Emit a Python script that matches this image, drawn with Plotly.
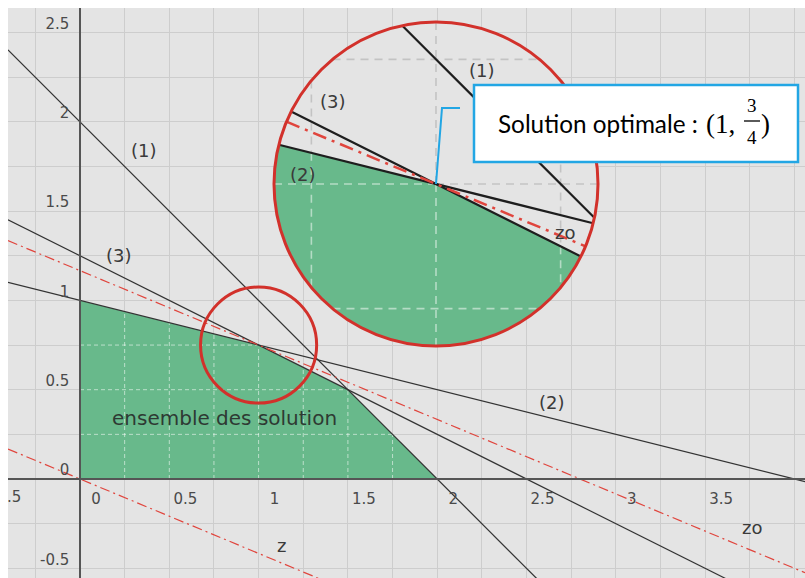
import numpy as np
import plotly.graph_objects as go

# ---- Linear programme: a*x + b*y <= c for each constraint, x >= 0, y >= 0 ----
constraint_names = ["(1)", "(2)", "(3)"]
coef_x = [1, 1, 2]
coef_y = [1, 4, 4]
rhs = [2, 4, 5]

# Objective z = 5x + 12y and the optimal vertex
objective = [5, 12]
optimum = [1.0, 0.75]

# Axis ticks
x_tick_vals = [-0.5, 0, 0.5, 1, 1.5, 2, 2.5, 3, 3.5]
x_tick_text = ["-0.5", "0", "0.5", "1", "1.5", "2", "2.5", "3", "3.5"]
y_tick_vals = [-0.5, 0, 0.5, 1, 1.5, 2, 2.5]
y_tick_text = ["-0.5", "0", "0.5", "1", "1.5", "2", "2.5"]
grid_step = 0.25

# ---- Page geometry ----
W, H = 805, 578
ML, MT = 8, 8
PW, PH = W - ML, H - MT
PX = 178.6                      # pixels per unit on the main view
ORIGIN_PX = (80, 479)
x_range = [(ML - ORIGIN_PX[0]) / PX, (W - ORIGIN_PX[0]) / PX]
y_range = [(ORIGIN_PX[1] - H) / PX, (ORIGIN_PX[1] - MT) / PX]

LENS_R = 0.325                  # radius of the magnified zone (data units)
LENS_CENTER_PX = (436, 184)
LENS_RADIUS_PX = 162
LENS_PAD_PX = 6                 # room so the outline is not clipped by the subplot

BG = "#e4e4e4"
GRID = "#cdcdcd"
GREEN = "#68b98b"
LINE = "#333333"
RED = "#e0453d"
CIRCLE_RED = "#d2312b"
BLUE = "#22a6e4"
TXT = "#3a3a3a"


def paper_x(px):
    return (px - ML) / PW


def paper_y(py):
    return (H - py) / PH


def clip_poly(poly, a, b, c):
    """Keep the part of a polygon where a*x + b*y <= c."""
    out = []
    n = len(poly)
    for i in range(n):
        p, q = poly[i], poly[(i + 1) % n]
        fp = a * p[0] + b * p[1] - c
        fq = a * q[0] + b * q[1] - c
        if fp <= 0:
            out.append(p)
        if fp * fq < 0:
            t = fp / (fp - fq)
            out.append((p[0] + t * (q[0] - p[0]), p[1] + t * (q[1] - p[1])))
    return out


def seg_interval(p, q, planes):
    """Parameter interval [t0, t1] of segment p->q lying inside all half-planes."""
    t0, t1 = 0.0, 1.0
    for a, b, c in planes:
        fp = a * p[0] + b * p[1] - c
        fq = a * q[0] + b * q[1] - c
        d = fq - fp
        if abs(d) < 1e-12:
            if fp > 0:
                return None
            continue
        t = -fp / d
        if d > 0:
            t1 = min(t1, t)
        else:
            t0 = max(t0, t)
    return (t0, t1) if t0 < t1 else None


def lerp(p, q, t):
    return (p[0] + t * (q[0] - p[0]), p[1] + t * (q[1] - p[1]))


def chord(a, b, c, cx, cy, r):
    """End points of the line a*x + b*y = c inside the circle (cx, cy, r)."""
    n2 = a * a + b * b
    s = (c - a * cx - b * cy) / n2
    fx, fy = cx + s * a, cy + s * b
    d2 = s * s * n2
    if d2 >= r * r:
        return None
    h = np.sqrt(r * r - d2) / np.sqrt(n2)
    return (fx - b * h, fy + a * h), (fx + b * h, fy - a * h)


def add_segments(segs, xs, ys):
    for p, q in segs:
        xs += [p[0], q[0], None]
        ys += [p[1], q[1], None]


planes = [(a, b, c) for a, b, c in zip(coef_x, coef_y, rhs)] + [(-1, 0, 0), (0, -1, 0)]
z_opt = objective[0] * optimum[0] + objective[1] * optimum[1]
levels = [0, z_opt]

fig = go.Figure()

# ---------------- main view ----------------
region = [(-1, -1), (5, -1), (5, 3), (-1, 3)]
for hp in planes:
    region = clip_poly(region, *hp)
rx = [p[0] for p in region] + [region[0][0]]
ry = [p[1] for p in region] + [region[0][1]]
fig.add_trace(go.Scatter(x=rx, y=ry, fill="toself", fillcolor=GREEN, mode="lines",
                         line=dict(width=0), hoverinfo="skip", showlegend=False))

# pale dashed grid showing through the solution set
gx, gy = [], []
segs = []
for k in range(1, 20):
    g = k * grid_step
    for p, q in (((g, -1), (g, 3)), ((-1, g), (5, g))):
        iv = seg_interval(p, q, planes)
        if iv:
            segs.append((lerp(p, q, iv[0]), lerp(p, q, iv[1])))
add_segments(segs, gx, gy)
fig.add_trace(go.Scatter(x=gx, y=gy, mode="lines", hoverinfo="skip", showlegend=False,
                         line=dict(color="rgba(255,255,255,0.55)", width=1, dash="4px,3px")))

# constraint lines
for a, b, c in zip(coef_x, coef_y, rhs):
    xs = list(x_range)
    ys = [(c - a * x) / b for x in xs]
    fig.add_trace(go.Scatter(x=xs, y=ys, mode="lines", hoverinfo="skip", showlegend=False,
                             line=dict(color=LINE, width=1.2)))

# objective level lines
for z in levels:
    xs = list(x_range)
    ys = [(z - objective[0] * x) / objective[1] for x in xs]
    fig.add_trace(go.Scatter(x=xs, y=ys, mode="lines", hoverinfo="skip", showlegend=False,
                             line=dict(color=RED, width=1.2, dash="10px,4px,2px,4px")))

# tick labels that fall just left of the visible range (clipped at the border)
for v, t in zip(x_tick_vals, x_tick_text):
    if v < x_range[0]:
        fig.add_trace(go.Scatter(x=[v + 16 / PX], y=[-19 / PX], mode="text", text=[t],
                                 textfont=dict(family="DejaVu Sans", size=15, color="#4a4a4a"),
                                 cliponaxis=True, hoverinfo="skip", showlegend=False))

# ---------------- magnified view ----------------
cx, cy = optimum
theta = np.linspace(0, 2 * np.pi, 361)[:-1]
disk = [(cx + LENS_R * np.cos(t), cy + LENS_R * np.sin(t)) for t in theta]
lens_region = disk
for hp in planes:
    lens_region = clip_poly(lens_region, *hp)
lx = [p[0] for p in lens_region] + [lens_region[0][0]]
ly = [p[1] for p in lens_region] + [lens_region[0][1]]
fig.add_trace(go.Scatter(x=lx, y=ly, xaxis="x2", yaxis="y2", fill="toself", fillcolor=GREEN,
                         mode="lines", line=dict(width=0), hoverinfo="skip", showlegend=False))

in_x, in_y, out_x, out_y = [], [], [], []
k0 = int(np.floor((min(cx, cy) - LENS_R) / grid_step))
k1 = int(np.ceil((max(cx, cy) + LENS_R) / grid_step))
for k in range(k0, k1 + 1):
    g = k * grid_step
    for a, b in ((1, 0), (0, 1)):
        ch = chord(a, b, g, cx, cy, LENS_R)
        if ch is None:
            continue
        p, q = ch
        iv = seg_interval(p, q, planes)
        if iv:
            add_segments([(lerp(p, q, iv[0]), lerp(p, q, iv[1]))], in_x, in_y)
            outside = [(0, iv[0]), (iv[1], 1)]
        else:
            outside = [(0, 1)]
        for t0, t1 in outside:
            if t1 - t0 > 1e-6:
                add_segments([(lerp(p, q, t0), lerp(p, q, t1))], out_x, out_y)
fig.add_trace(go.Scatter(x=out_x, y=out_y, xaxis="x2", yaxis="y2", mode="lines", hoverinfo="skip",
                         showlegend=False, line=dict(color="#c3c3c3", width=1.6, dash="8px,6px")))
fig.add_trace(go.Scatter(x=in_x, y=in_y, xaxis="x2", yaxis="y2", mode="lines", hoverinfo="skip",
                         showlegend=False, line=dict(color="rgba(255,255,255,0.5)", width=1.6, dash="8px,6px")))

for a, b, c in zip(coef_x, coef_y, rhs):
    ch = chord(a, b, c, cx, cy, LENS_R)
    if ch:
        fig.add_trace(go.Scatter(x=[ch[0][0], ch[1][0]], y=[ch[0][1], ch[1][1]], xaxis="x2", yaxis="y2",
                                 mode="lines", hoverinfo="skip", showlegend=False,
                                 line=dict(color="#1e1e1e", width=2.2)))
for z in levels:
    ch = chord(objective[0], objective[1], z, cx, cy, LENS_R)
    if ch:
        fig.add_trace(go.Scatter(x=[ch[0][0], ch[1][0]], y=[ch[0][1], ch[1][1]], xaxis="x2", yaxis="y2",
                                 mode="lines", hoverinfo="skip", showlegend=False,
                                 line=dict(color=RED, width=2.5, dash="14px,6px,3px,6px")))

# ---------------- shapes ----------------
shapes = [
    dict(type="rect", xref="paper", yref="paper", x0=0, x1=1, y0=0, y1=1,
         fillcolor=BG, line=dict(width=0), layer="below"),
    # background disc of the magnifier (covers the main view beneath it)
    dict(type="circle", xref="x2", yref="y2", x0=cx - LENS_R, x1=cx + LENS_R,
         y0=cy - LENS_R, y1=cy + LENS_R, fillcolor=BG, line=dict(width=0), layer="below"),
    # zone being magnified
    dict(type="circle", xref="x", yref="y", x0=cx - LENS_R, x1=cx + LENS_R,
         y0=cy - LENS_R, y1=cy + LENS_R, line=dict(color=CIRCLE_RED, width=3), layer="above"),
    dict(type="circle", xref="x2", yref="y2", x0=cx - LENS_R, x1=cx + LENS_R,
         y0=cy - LENS_R, y1=cy + LENS_R, line=dict(color=CIRCLE_RED, width=3), layer="above"),
    # callout box and pointer
    dict(type="rect", xref="paper", yref="paper", x0=paper_x(474), x1=paper_x(798),
         y0=paper_y(162), y1=paper_y(85), fillcolor="white", line=dict(color=BLUE, width=2.5),
         layer="above"),
    dict(type="path", xref="paper", yref="paper",
         path=f"M {paper_x(460)},{paper_y(108)} L {paper_x(442)},{paper_y(108)} "
              f"L {paper_x(LENS_CENTER_PX[0])},{paper_y(LENS_CENTER_PX[1])}",
         line=dict(color=BLUE, width=2), layer="above"),
    # fraction bar
    dict(type="line", xref="paper", yref="paper", x0=paper_x(744), x1=paper_x(760),
         y0=paper_y(121), y1=paper_y(121), line=dict(color="black", width=1.3), layer="above"),
]

# ---------------- annotations ----------------
lab_font = dict(family="DejaVu Sans", size=18, color=TXT)
lens_scale = LENS_RADIUS_PX / LENS_R


def lens_xy(px, py):
    return cx + (px - LENS_CENTER_PX[0]) / lens_scale, cy + (LENS_CENTER_PX[1] - py) / lens_scale


annotations = [
    dict(x=0.36, y=1.84, text=constraint_names[0], font=lab_font),
    dict(x=0.22, y=1.25, text=constraint_names[2], font=lab_font),
    dict(x=2.64, y=0.43, text=constraint_names[1], font=lab_font),
    dict(x=0.81, y=0.34, text="ensemble des solution",
         font=dict(family="DejaVu Sans", size=20, color="#2e3a33")),
    dict(x=1.13, y=-0.37, text="z", font=lab_font),
    dict(x=3.76, y=-0.27, text="zo", font=lab_font),
]
for (px, py), t in [((482, 70), constraint_names[0]), ((333, 101), constraint_names[2]),
                    ((303, 174), constraint_names[1]), ((565, 232), "zo")]:
    lx_, ly_ = lens_xy(px, py)
    annotations.append(dict(x=lx_, y=ly_, xref="x2", yref="y2", text=t, font=lab_font))

for a in annotations:
    a.setdefault("xref", "x")
    a.setdefault("yref", "y")
    a.update(showarrow=False, xanchor="center", yanchor="middle")

frac_font = dict(family="Liberation Serif", size=19, color="black")
big_serif = dict(family="Liberation Serif", size=27, color="black")
annotations += [
    dict(x=paper_x(496), y=paper_y(124), xref="paper", yref="paper", xanchor="left", yanchor="middle",
         text="Solution optimale :", showarrow=False,
         font=dict(family="Lato", size=24.3, color="black")),
    dict(x=paper_x(737), y=paper_y(124), xref="paper", yref="paper", xanchor="right", yanchor="middle",
         text="(1,", showarrow=False, font=big_serif),
    dict(x=paper_x(752), y=paper_y(106), xref="paper", yref="paper", xanchor="center", yanchor="middle",
         text=str(int(optimum[1] * 4)), showarrow=False, font=frac_font),
    dict(x=paper_x(752), y=paper_y(137), xref="paper", yref="paper", xanchor="center", yanchor="middle",
         text="4", showarrow=False, font=frac_font),
    dict(x=paper_x(759), y=paper_y(124), xref="paper", yref="paper", xanchor="left", yanchor="middle",
         text=")", showarrow=False, font=big_serif),
]

tick_font = dict(family="DejaVu Sans", size=15, color="#4a4a4a")
half_px = LENS_RADIUS_PX + LENS_PAD_PX
half_data = half_px / lens_scale
lens_dom_x = [paper_x(LENS_CENTER_PX[0] - half_px), paper_x(LENS_CENTER_PX[0] + half_px)]
lens_dom_y = [paper_y(LENS_CENTER_PX[1] + half_px), paper_y(LENS_CENTER_PX[1] - half_px)]

fig.update_layout(
    width=W, height=H,
    margin=dict(l=ML, r=0, t=MT, b=0, pad=0, autoexpand=False),
    paper_bgcolor="white",
    plot_bgcolor="rgba(0,0,0,0)",
    showlegend=False,
    xaxis=dict(range=x_range, domain=[0, 1], anchor="free",
               position=(0 - y_range[0]) / (y_range[1] - y_range[0]),
               tickmode="array", tickvals=x_tick_vals, ticktext=x_tick_text,
               showgrid=True, gridcolor=GRID, gridwidth=1,
               minor=dict(dtick=grid_step, tick0=0, showgrid=True, gridcolor=GRID, gridwidth=1),
               zeroline=False, showline=True, linecolor="#555555", linewidth=1.5,
               ticks="", ticklabelshift=16, ticklabelstandoff=6, tickfont=tick_font,
               fixedrange=True),
    yaxis=dict(range=y_range, domain=[0, 1], anchor="free",
               position=(0 - x_range[0]) / (x_range[1] - x_range[0]),
               tickmode="array", tickvals=y_tick_vals, ticktext=y_tick_text,
               showgrid=True, gridcolor=GRID, gridwidth=1,
               minor=dict(dtick=grid_step, tick0=0, showgrid=True, gridcolor=GRID, gridwidth=1),
               zeroline=False, showline=True, linecolor="#555555", linewidth=1.5,
               ticks="", ticklabelshift=-9, ticklabelstandoff=7, tickfont=tick_font,
               fixedrange=True),
    xaxis2=dict(domain=lens_dom_x, range=[cx - half_data, cx + half_data], anchor="y2",
                visible=False, fixedrange=True),
    yaxis2=dict(domain=lens_dom_y, range=[cy - half_data, cy + half_data], anchor="x2",
                visible=False, fixedrange=True),
    shapes=shapes,
    annotations=annotations,
)

fig.write_html("out.html")
